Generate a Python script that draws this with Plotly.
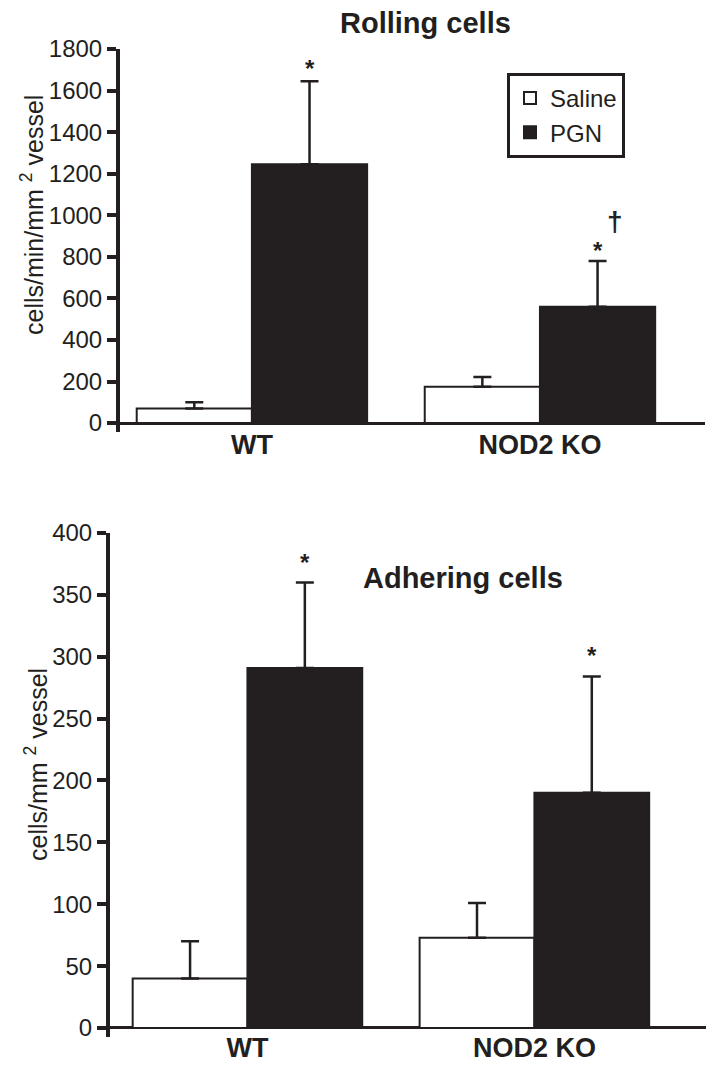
import plotly.graph_objects as go

# ---- data ----
categories = ["WT", "NOD2 KO"]
series_names = ["Saline", "PGN"]

rolling_saline = [70, 175]
rolling_saline_err = [30, 47]
rolling_pgn = [1245, 560]
rolling_pgn_err = [400, 220]

adhering_saline = [40, 73]
adhering_saline_err = [30, 28]
adhering_pgn = [291, 190]
adhering_pgn_err = [69, 94]

rolling_ticks = [0, 200, 400, 600, 800, 1000, 1200, 1400, 1600, 1800]
adhering_ticks = [0, 50, 100, 150, 200, 250, 300, 350, 400]

INK = "#231f20"
FONT = "Liberation Sans, Arial, sans-serif"
OFF = 8                 # page body margin
W, H = 716 - 2 * OFF, 1070 - 2 * OFF


def py(y):
    return 1 - (y - OFF) / H


def px_(x):
    return (x - OFF) / W


fig = go.Figure()


def add_bars(vals, errs, name, fill, xa, ya, show):
    fig.add_trace(go.Bar(
        x=categories, y=vals, name=name, showlegend=show,
        xaxis=xa, yaxis=ya,
        marker=dict(color=fill, line=dict(color=INK, width=2)),
        error_y=dict(type="data", symmetric=False, array=errs,
                     arrayminus=[0] * len(errs), color=INK,
                     thickness=2.5, width=9),
    ))


add_bars(rolling_saline, rolling_saline_err, series_names[0], "white", "x", "y", True)
add_bars(rolling_pgn, rolling_pgn_err, series_names[1], INK, "x", "y", True)
add_bars(adhering_saline, adhering_saline_err, series_names[0], "white", "x2", "y2", False)
add_bars(adhering_pgn, adhering_pgn_err, series_names[1], INK, "x2", "y2", False)

yax_common = dict(
    showline=True, linecolor=INK, linewidth=4, automargin=False,
    ticks="outside", ticklen=9, tickwidth=4, tickcolor=INK,
    tickfont=dict(family=FONT, size=24, color=INK),
    showgrid=False, zeroline=True, zerolinecolor=INK, zerolinewidth=3,
)
xax_common = dict(
    type="category", showline=False, ticks="", showgrid=False, zeroline=False,
    automargin=False,
    tickfont=dict(family=FONT, size=27, color=INK, weight="bold"),
)

fig.update_layout(
    width=W, height=H,
    margin=dict(l=0, r=0, t=0, b=0, pad=0),
    paper_bgcolor="white", plot_bgcolor="white",
    barmode="group", bargap=0.2, bargroupgap=0,
    xaxis=dict(domain=[px_(120), px_(705)], anchor="y",
               range=[-0.458, 1.573], ticklabelstandoff=-6, **xax_common),
    yaxis=dict(domain=[py(432), py(49)], anchor="x",
               range=[-43, 1800], tickvals=rolling_ticks, **yax_common),
    xaxis2=dict(domain=[px_(110), px_(706)], anchor="y2",
                range=[-0.479, 1.598], ticklabelstandoff=-8, **xax_common),
    yaxis2=dict(domain=[py(1037), py(533)], anchor="x2",
                range=[-7.3, 400], tickvals=adhering_ticks, **yax_common),
    legend=dict(x=px_(507), y=py(73), xanchor="left", yanchor="top",
                bordercolor=INK, borderwidth=3, bgcolor="white",
                font=dict(family=FONT, size=24, color=INK),
                itemwidth=30, tracegroupgap=0),
    font=dict(family=FONT, color=INK),
)

annotations = [
    # titles
    dict(text="<b>Rolling cells</b>", xref="paper", yref="paper",
         x=px_(425), y=py(23), xanchor="center", yanchor="middle",
         showarrow=False, font=dict(size=29, family=FONT, color=INK)),
    dict(text="<b>Adhering cells</b>", xref="paper", yref="paper",
         x=px_(463), y=py(578), xanchor="center", yanchor="middle",
         showarrow=False, font=dict(size=29, family=FONT, color=INK)),
    # y axis titles
    dict(text="cells/min/mm <sup>2</sup> vessel", xref="paper", yref="paper",
         x=px_(32), y=py(215), xanchor="center", yanchor="middle",
         textangle=-90, showarrow=False, font=dict(size=25, family=FONT, color=INK)),
    dict(text="cells/mm <sup>2</sup> vessel", xref="paper", yref="paper",
         x=px_(36), y=py(765), xanchor="center", yanchor="middle",
         textangle=-90, showarrow=False, font=dict(size=25, family=FONT, color=INK)),
    # significance marks
    dict(text="<b>*</b>", xref="x", yref="y", x=0.2, y=1708, showarrow=False,
         xanchor="center", yanchor="middle", font=dict(size=24, family=FONT, color=INK)),
    dict(text="<b>*</b>", xref="x", yref="y", x=1.2, y=832, showarrow=False,
         xanchor="center", yanchor="middle", font=dict(size=24, family=FONT, color=INK)),
    dict(text="<b>†</b>", xref="x", yref="y", x=1.26, y=972, showarrow=False,
         xanchor="center", yanchor="middle", font=dict(size=28, family=FONT, color=INK)),
    dict(text="<b>*</b>", xref="x2", yref="y2", x=0.2, y=376, showarrow=False,
         xanchor="center", yanchor="middle", font=dict(size=24, family=FONT, color=INK)),
    dict(text="<b>*</b>", xref="x2", yref="y2", x=1.2, y=301, showarrow=False,
         xanchor="center", yanchor="middle", font=dict(size=24, family=FONT, color=INK)),
]
fig.update_layout(annotations=annotations)

fig.write_html("out.html")
